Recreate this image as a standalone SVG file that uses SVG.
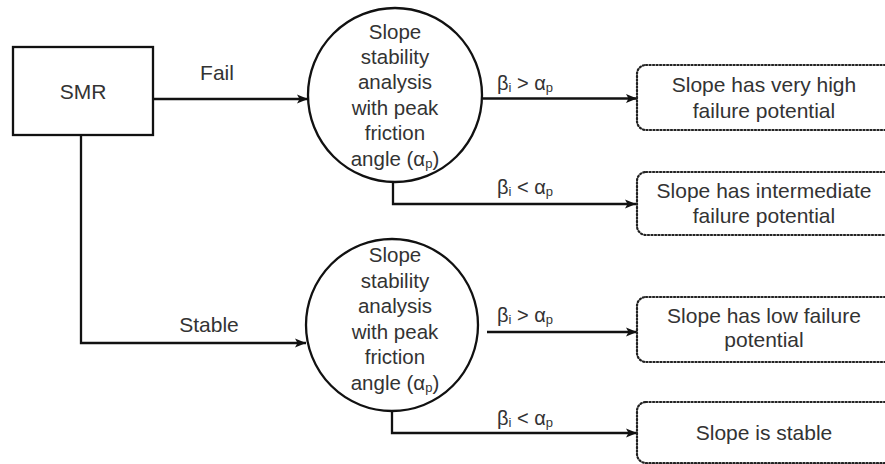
<svg xmlns="http://www.w3.org/2000/svg" width="885" height="464" viewBox="0 0 885 464">
  <defs>
    <marker id="arrow" markerUnits="userSpaceOnUse" markerWidth="12" markerHeight="10" refX="11" refY="5" orient="auto">
      <path d="M0,0.5 L11,5 L0,9.5 L2.5,5 z" fill="#111"/>
    </marker>
    <style>
      text { font-family: "Liberation Sans", Arial, sans-serif; fill: #333; }
      .t { font-size: 21px; text-anchor: middle; }
      .c { font-size: 20.5px; text-anchor: middle; }
      .lbl { font-size: 20px; }
      .sub { font-size: 13px; }
      .node { fill: #fff; stroke: #111; stroke-width: 2.3; }
      .out { fill: #fff; stroke: #222; stroke-width: 2.2; stroke-dasharray: 1.2 2.3; stroke-linecap: round; }
      .conn { fill: none; stroke: #111; stroke-width: 2.3; }
    </style>
  </defs>

  <rect width="885" height="464" fill="#fff"/>

  <!-- connectors -->
  <g id="connectors">
    <path class="conn" d="M153,99 H308" marker-end="url(#arrow)"/>
    <path class="conn" d="M81,135 V343 H306" marker-end="url(#arrow)"/>
    <path class="conn" d="M483,98.5 H637" marker-end="url(#arrow)"/>
    <path class="conn" d="M393,182 V204 H636" marker-end="url(#arrow)"/>
    <path class="conn" d="M487,332 H637" marker-end="url(#arrow)"/>
    <path class="conn" d="M392,411 V433 H637" marker-end="url(#arrow)"/>
    <text class="t" x="217" y="80">Fail</text>
    <text class="t" x="209" y="332">Stable</text>
    <text class="lbl" x="497" y="90">β<tspan class="sub" dy="2">i</tspan><tspan dy="-2"> &gt; α</tspan><tspan class="sub" dy="2">p</tspan></text>
    <text class="lbl" x="497" y="194">β<tspan class="sub" dy="2">i</tspan><tspan dy="-2"> &lt; α</tspan><tspan class="sub" dy="2">p</tspan></text>
    <text class="lbl" x="497" y="322">β<tspan class="sub" dy="2">i</tspan><tspan dy="-2"> &gt; α</tspan><tspan class="sub" dy="2">p</tspan></text>
    <text class="lbl" x="497" y="425">β<tspan class="sub" dy="2">i</tspan><tspan dy="-2"> &lt; α</tspan><tspan class="sub" dy="2">p</tspan></text>
  </g>

  <!-- source box -->
  <g id="smr">
    <rect class="node" x="13" y="47" width="140" height="88"/>
    <text class="t" x="83" y="99">SMR</text>
  </g>

  <!-- analysis for failing slopes -->
  <g id="analysis-fail">
    <circle class="node" cx="395" cy="95" r="87"/>
    <text class="c" x="395" y="39">Slope</text>
    <text class="c" x="395" y="64">stability</text>
    <text class="c" x="395" y="89">analysis</text>
    <text class="c" x="395" y="115">with peak</text>
    <text class="c" x="395" y="140">friction</text>
    <text class="c" x="395" y="166">angle (α<tspan class="sub" dy="2">p</tspan><tspan dy="-2">)</tspan></text>
  </g>

  <!-- analysis for stable slopes -->
  <g id="analysis-stable">
    <circle class="node" cx="392" cy="325" r="86"/>
    <text class="c" x="395" y="262">Slope</text>
    <text class="c" x="395" y="288">stability</text>
    <text class="c" x="395" y="313">analysis</text>
    <text class="c" x="395" y="339">with peak</text>
    <text class="c" x="395" y="364">friction</text>
    <text class="c" x="395" y="390">angle (α<tspan class="sub" dy="2">p</tspan><tspan dy="-2">)</tspan></text>
  </g>

  <!-- outcomes -->
  <g id="very-high">
    <rect class="out" x="637" y="65" width="270" height="65" rx="9"/>
    <text class="t" x="764" y="92">Slope has very high</text>
    <text class="t" x="764" y="118">failure potential</text>
  </g>
  <g id="intermediate">
    <rect class="out" x="637" y="172" width="270" height="63" rx="9"/>
    <text class="t" x="764" y="198">Slope has intermediate</text>
    <text class="t" x="764" y="223">failure potential</text>
  </g>
  <g id="low">
    <rect class="out" x="637" y="297" width="270" height="65" rx="9"/>
    <text class="t" x="764" y="323">Slope has low failure</text>
    <text class="t" x="764" y="347">potential</text>
  </g>
  <g id="stable">
    <rect class="out" x="637" y="402" width="270" height="61" rx="9"/>
    <text class="t" x="764" y="440">Slope is stable</text>
  </g>
</svg>
